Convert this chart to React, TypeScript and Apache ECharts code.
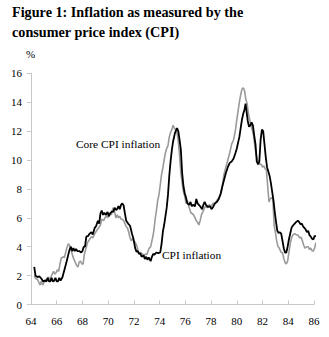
import React, { useEffect, useRef } from "react";
import * as echarts from "echarts";

const yearTicks = ["64", "66", "68", "70", "72", "74", "76", "78", "80", "82", "84", "86"];
const valueTicks = ["0", "2", "4", "6", "8", "10", "12", "14", "16"];

// Black line
const coreYears = [
  64.25, 64.35, 64.5, 64.65, 64.8, 64.95, 65.1, 65.2, 65.3, 65.4, 65.5, 65.6, 65.7, 65.8, 65.9, 66.0, 66.1, 66.2, 66.3, 66.45,
  66.6, 66.75, 66.9, 67.0, 67.1, 67.2, 67.3, 67.4, 67.5, 67.6, 67.75, 67.9, 68.0, 68.1, 68.2, 68.3, 68.45, 68.55, 68.7, 68.8,
  68.95, 69.05, 69.2, 69.3, 69.4, 69.5, 69.6, 69.7, 69.8, 69.95, 70.05, 70.15, 70.3, 70.4, 70.5, 70.6, 70.7, 70.8, 70.9, 71.0,
  71.1, 71.2, 71.3, 71.4, 71.55, 71.7, 71.85, 71.95, 72.1, 72.2, 72.3, 72.4, 72.5, 72.6, 72.75, 72.85, 72.95, 73.05, 73.15, 73.3,
  73.4, 73.5, 73.6, 73.75, 73.9, 74.05, 74.15, 74.26, 74.35, 74.45, 74.55, 74.65, 74.75, 74.85, 74.95, 75.05, 75.2, 75.35, 75.45, 75.55,
  75.65, 75.75, 75.85, 75.95, 76.05, 76.15, 76.3, 76.4, 76.5, 76.6, 76.75, 76.85, 76.95, 77.05, 77.15, 77.3, 77.4, 77.5, 77.6, 77.75,
  77.9, 78.05, 78.15, 78.3, 78.45, 78.6, 78.75, 78.85, 79.0, 79.15, 79.3, 79.45, 79.6, 79.75, 79.9, 80.0, 80.1, 80.2, 80.3, 80.4,
  80.5, 80.6, 80.68, 80.75, 80.85, 80.95, 81.05, 81.15, 81.25, 81.35, 81.45, 81.55, 81.65, 81.75, 81.85, 81.95, 82.05, 82.15, 82.25, 82.35,
  82.45, 82.55, 82.65, 82.75, 82.85, 82.95, 83.05, 83.15, 83.25, 83.35, 83.45, 83.55, 83.65, 83.75, 83.85, 83.95, 84.05, 84.15, 84.25, 84.35,
  84.5, 84.6, 84.75, 84.85, 84.95, 85.05, 85.15, 85.25, 85.35, 85.45, 85.55, 85.65, 85.75, 85.85, 85.95, 86.05, 86.15,
];
const coreValues = [
  2.6, 2.0, 1.9, 1.95, 1.8, 1.6, 1.65, 1.6, 1.85, 1.6, 1.6, 1.85, 1.6, 1.65, 1.85, 1.6, 1.6, 1.85, 1.65, 1.9,
  2.4, 2.9, 3.45, 3.8, 4.0, 3.7, 3.9, 3.7, 3.85, 3.7, 3.7, 3.6, 3.7, 4.0, 4.0, 4.7, 4.75, 4.9, 5.0, 4.85,
  5.3, 5.4, 5.8, 5.6, 6.3, 6.5, 6.2, 6.35, 6.2, 6.4, 6.1, 6.3, 6.45, 6.4, 6.7, 6.55, 6.6, 6.8, 6.6, 6.9,
  7.0, 6.85, 6.3, 5.8, 5.6, 5.45, 4.9, 4.6, 3.9, 3.65, 3.7, 3.5, 3.55, 3.3, 3.4, 3.15, 3.3, 3.1, 3.25, 3.0,
  3.3, 3.5, 3.45, 3.6, 3.55, 3.6, 4.2, 5.1, 5.5, 6.1, 6.7, 7.6, 8.9, 9.9, 10.7, 11.3, 11.9, 12.2, 12.0, 11.4,
  10.7, 9.1, 8.2, 7.7, 7.4, 7.0, 6.9, 7.1, 6.8, 6.9, 6.8, 7.3, 7.0, 6.9, 6.8, 6.6, 6.9, 7.1, 6.9, 6.75,
  6.8, 6.6, 6.75, 7.0, 7.1, 7.3, 7.7, 8.1, 8.6, 9.1, 9.5, 9.8, 9.9, 10.1, 10.5, 10.8, 11.2, 11.6, 12.2, 12.8,
  13.2, 13.5, 13.9, 13.4, 12.7, 12.3, 12.4, 12.6, 12.4, 11.7, 11.1, 9.9, 9.7, 9.9, 11.4, 12.1, 12.0, 11.1, 10.2, 9.5,
  9.2, 8.9, 8.4, 7.8, 7.2, 6.4, 5.7, 5.1, 4.95, 5.0, 4.9, 4.4, 3.9, 3.6, 3.6, 4.0, 4.5, 4.9, 5.3, 5.45,
  5.6, 5.7, 5.8, 5.7, 5.55, 5.6, 5.4, 5.3, 5.2, 5.0, 5.1, 4.8, 4.7, 4.55, 4.5, 4.75, 4.7,
];

// Grey line
const cpiYears = [
  64.25, 64.35, 64.5, 64.6, 64.7, 64.8, 64.9, 65.0, 65.1, 65.25, 65.35, 65.45, 65.55, 65.65, 65.75, 65.85, 65.95, 66.05, 66.15, 66.25,
  66.35, 66.5, 66.6, 66.75, 66.9, 67.0, 67.1, 67.2, 67.3, 67.4, 67.55, 67.65, 67.75, 67.85, 67.95, 68.05, 68.15, 68.25, 68.4, 68.55,
  68.7, 68.8, 68.95, 69.1, 69.25, 69.4, 69.5, 69.65, 69.75, 69.85, 69.95, 70.1, 70.25, 70.38, 70.5, 70.6, 70.7, 70.8, 70.9, 71.0,
  71.1, 71.2, 71.3, 71.4, 71.5, 71.6, 71.7, 71.8, 71.9, 72.0, 72.1, 72.25, 72.35, 72.5, 72.65, 72.8, 72.9, 73.0, 73.1, 73.2,
  73.3, 73.45, 73.55, 73.65, 73.75, 73.85, 73.95, 74.05, 74.15, 74.26, 74.35, 74.45, 74.55, 74.65, 74.75, 74.85, 74.95, 75.05, 75.15, 75.25,
  75.35, 75.45, 75.55, 75.65, 75.75, 75.85, 75.95, 76.05, 76.15, 76.3, 76.45, 76.55, 76.7, 76.85, 76.95, 77.05, 77.15, 77.25, 77.4, 77.55,
  77.7, 77.85, 78.0, 78.15, 78.3, 78.45, 78.6, 78.75, 78.85, 79.0, 79.15, 79.3, 79.45, 79.6, 79.75, 79.9, 80.0, 80.1, 80.2, 80.3,
  80.4, 80.5, 80.6, 80.7, 80.8, 80.9, 81.0, 81.1, 81.2, 81.3, 81.4, 81.5, 81.6, 81.7, 81.8, 81.9, 82.0, 82.1, 82.2, 82.3,
  82.4, 82.5, 82.6, 82.7, 82.8, 82.9, 83.0, 83.1, 83.2, 83.3, 83.45, 83.55, 83.65, 83.75, 83.85, 83.95, 84.05, 84.15, 84.25, 84.35,
  84.5, 84.6, 84.75, 84.9, 85.0, 85.1, 85.2, 85.3, 85.45, 85.55, 85.65, 85.75, 85.85, 85.95, 86.05, 86.15,
];
const cpiValues = [
  2.0, 1.8, 1.75, 1.55, 1.35, 1.6, 1.35, 1.5, 1.7, 1.75, 1.9, 1.7, 1.9, 2.1, 2.3, 2.1, 2.2, 2.4, 2.3, 2.8,
  3.2, 3.3, 3.25, 3.8, 4.2, 4.1, 3.8, 3.5, 3.2, 3.0, 2.7, 2.6, 2.95, 3.0, 2.8, 2.8, 3.5, 3.8, 4.3, 4.5,
  4.7, 4.6, 4.9, 5.1, 5.3, 5.5, 5.9, 5.8, 6.0, 6.15, 6.0, 6.3, 6.2, 6.7, 6.4, 6.0, 6.2, 6.0, 6.1, 5.9,
  5.9, 5.8, 5.6, 5.4, 5.3, 5.0, 4.6, 4.4, 4.6, 4.4, 4.3, 4.0, 3.6, 3.6, 3.5, 3.4, 3.5, 3.45, 3.7, 3.9,
  4.0, 4.6, 5.1, 5.9, 6.5, 7.2, 7.6, 8.3, 9.0, 9.5, 10.0, 10.5, 10.8, 11.0, 11.6, 11.9, 12.1, 12.4, 12.2, 12.1,
  11.9, 11.3, 10.3, 9.1, 8.4, 7.8, 7.5, 7.0, 7.2, 6.7, 6.3, 6.3, 6.1, 5.8, 5.7, 5.5, 5.8, 6.2, 6.5, 6.8,
  6.7, 6.9, 6.8, 7.0, 7.0, 7.2, 7.4, 7.6, 8.0, 9.0, 9.5, 10.0, 10.5, 11.1, 11.4, 12.1, 12.8, 13.4, 14.0, 14.5,
  14.9, 15.0, 14.8, 14.2, 13.9, 13.2, 12.8, 12.4, 12.1, 11.7, 11.0, 10.4, 10.0, 9.9, 9.7, 9.7, 9.5, 9.6, 9.4, 9.3,
  8.2, 7.1, 7.3, 7.4, 7.3, 5.5, 5.0, 4.4, 4.0, 3.9, 3.6, 3.6, 3.2, 2.9, 2.8, 3.0, 3.6, 4.2, 4.6, 4.8,
  4.9, 4.85, 4.8, 4.6, 4.65, 4.4, 4.1, 3.9, 4.0, 4.0, 3.8, 3.9, 3.7, 3.7, 3.9, 4.3,
];

const titleText = "Figure 1: Inflation as measured by the\nconsumer price index (CPI)";
const coreLabel = "Core CPI inflation";
const cpiLabel = "CPI inflation";

export default function App() {
  const ref = useRef<HTMLDivElement>(null);
  useEffect(() => {
    if (!ref.current) return;
    const chart = echarts.init(ref.current, undefined, { renderer: "svg" });
    const serif = "Liberation Serif";
    const yMin = Number(valueTicks[0]);
    const yMax = Number(valueTicks[valueTicks.length - 1]);
    const xMin = Number(yearTicks[0]);
    const xMax = Number(yearTicks[yearTicks.length - 1]);
    chart.setOption({
      animation: false,
      backgroundColor: "#ffffff",
      title: {
        text: titleText,
        left: 12,
        top: 2,
        padding: 0,
        textStyle: {
          fontFamily: serif,
          fontWeight: "bold",
          fontSize: 14.2,
          lineHeight: 20,
          color: "#000",
        },
      },
      grid: { left: 31, right: 15, top: 73.3, bottom: 32.5, containLabel: false },
      xAxis: {
        type: "value",
        min: xMin,
        max: xMax,
        interval: 2,
        axisLine: { show: true, lineStyle: { color: "#c8c8c8", width: 1 } },
        axisTick: { show: true, inside: true, length: 4, lineStyle: { color: "#c8c8c8" } },
        axisLabel: { fontFamily: serif, fontSize: 11, color: "#000", margin: 11 },
        splitLine: { show: false },
      },
      yAxis: {
        type: "value",
        min: yMin,
        max: yMax,
        interval: 2,
        axisLine: { show: true, lineStyle: { color: "#c8c8c8", width: 1 } },
        axisTick: { show: true, inside: false, length: 4, lineStyle: { color: "#c8c8c8" } },
        axisLabel: { fontFamily: serif, fontSize: 11, color: "#000", margin: 9 },
        splitLine: { show: false },
      },
      graphic: [
        { type: "text", left: 26, top: 48, style: { text: "%", fontFamily: serif, fontSize: 11, fill: "#000" } },
        { type: "text", left: 76, top: 138, style: { text: coreLabel, fontFamily: serif, fontSize: 11.4, fill: "#000" } },
        { type: "text", left: 162, top: 249, style: { text: cpiLabel, fontFamily: serif, fontSize: 11.4, fill: "#000" } },
      ],
      series: [
        {
          name: cpiLabel,
          type: "line",
          showSymbol: false,
          clip: false,
          data: cpiYears.map((x, i) => [x, cpiValues[i]]),
          lineStyle: { color: "#9a9a9a", width: 1.6 },
        },
        {
          name: coreLabel,
          type: "line",
          showSymbol: false,
          clip: false,
          data: coreYears.map((x, i) => [x, coreValues[i]]),
          lineStyle: { color: "#000000", width: 1.8 },
        },
      ],
    });
    return () => chart.dispose();
  }, []);
  return (
    <div
      ref={ref}
      style={{ position: "fixed", left: 0, top: 0, width: 329, height: 337, background: "#fff" }}
    />
  );
}
